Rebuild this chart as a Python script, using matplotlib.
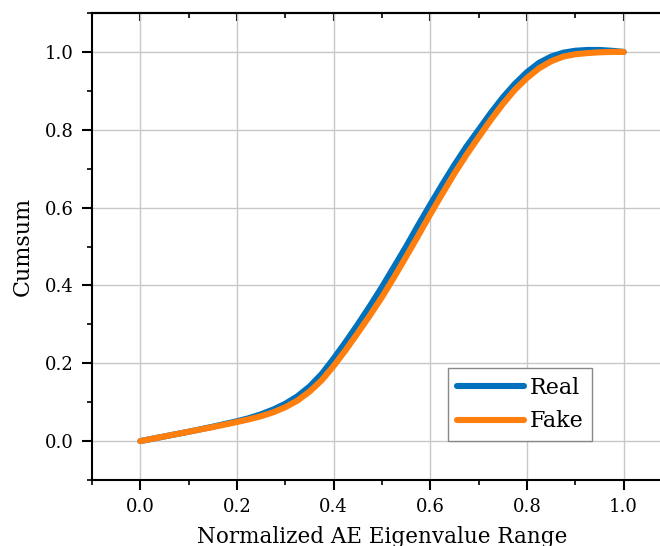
import matplotlib
matplotlib.use("Agg")
import matplotlib.pyplot as plt
from matplotlib.ticker import MultipleLocator

# values
x_vals = [0.0, 0.05, 0.1, 0.15, 0.2, 0.225, 0.25, 0.275, 0.3, 0.325, 0.35, 0.375,
          0.4, 0.425, 0.45, 0.475, 0.5, 0.525, 0.55, 0.575, 0.6, 0.625, 0.65,
          0.675, 0.7, 0.725, 0.75, 0.775, 0.8, 0.825, 0.85, 0.875, 0.9, 0.925,
          0.95, 0.975, 1.0]
real_vals = [0.0, 0.012, 0.024, 0.037, 0.051, 0.059, 0.069, 0.081, 0.096, 0.115, 0.140,
             0.172, 0.212, 0.255, 0.300, 0.347, 0.396, 0.448, 0.500, 0.555, 0.608,
             0.660, 0.710, 0.757, 0.800, 0.843, 0.883, 0.918, 0.948, 0.972, 0.988,
             0.998, 1.003, 1.005, 1.005, 1.003, 1.0]
fake_vals = [0.0, 0.012, 0.024, 0.036, 0.049, 0.056, 0.064, 0.074, 0.087, 0.104, 0.127,
             0.156, 0.193, 0.234, 0.278, 0.323, 0.370, 0.421, 0.474, 0.528, 0.583,
             0.636, 0.688, 0.736, 0.781, 0.825, 0.866, 0.903, 0.933, 0.958, 0.976,
             0.988, 0.994, 0.997, 0.999, 1.0, 1.0]
x_ticks = [0.0, 0.2, 0.4, 0.6, 0.8, 1.0]
y_ticks = [0.0, 0.2, 0.4, 0.6, 0.8, 1.0]

plt.rcParams["font.family"] = ["DejaVu Serif"]

fig = plt.figure(figsize=(6.6, 5.46), dpi=100)
ax = fig.add_axes([92 / 660, 66 / 546, 580 / 660, 467 / 546])

ax.plot(x_vals, real_vals, color="#0072BD", lw=4.4, label="Real",
        solid_capstyle="round", solid_joinstyle="round")
ax.plot(x_vals, fake_vals, color="#FF7F0E", lw=4.4, label="Fake",
        solid_capstyle="round", solid_joinstyle="round")

ax.set_xlim(-0.1, 1.1)
ax.set_ylim(-0.1, 1.1)
ax.set_xticks(x_ticks)
ax.set_yticks(y_ticks)
ax.set_xticklabels([f"{v:.1f}" for v in x_ticks], fontsize=13)
ax.set_yticklabels([f"{v:.1f}" for v in y_ticks], fontsize=13)
ax.xaxis.set_minor_locator(MultipleLocator(0.1))
ax.yaxis.set_minor_locator(MultipleLocator(0.1))
ax.grid(True, which="major", color="#c8c8c8", lw=1.0)

ax.tick_params(which="major", direction="out", length=7, width=1.5, pad=6)
ax.tick_params(which="minor", direction="out", length=3.5, width=1.2)
for s in ax.spines.values():
    s.set_linewidth(1.5)

top = ax.secondary_xaxis("top")
top.set_xticks(x_ticks)
top.xaxis.set_minor_locator(MultipleLocator(0.1))
top.tick_params(which="major", direction="in", length=6, width=1.5, labeltop=False)
top.tick_params(which="minor", direction="in", length=3.5, width=1.2)
top.spines["top"].set_linewidth(1.5)

ax.set_xlabel("Normalized AE Eigenvalue Range", fontsize=15.5, labelpad=7)
ax.set_ylabel("Cumsum", fontsize=16, labelpad=8)

leg = ax.legend(loc="lower right", bbox_to_anchor=(0.862, 0.083), fontsize=16,
                fancybox=False, framealpha=1, edgecolor="#888888",
                handlelength=3.0, handletextpad=0.25, borderpad=0.4,
                labelspacing=0.5, borderaxespad=0)
leg.get_frame().set_linewidth(1.0)

fig.savefig("out.png", dpi=100)
